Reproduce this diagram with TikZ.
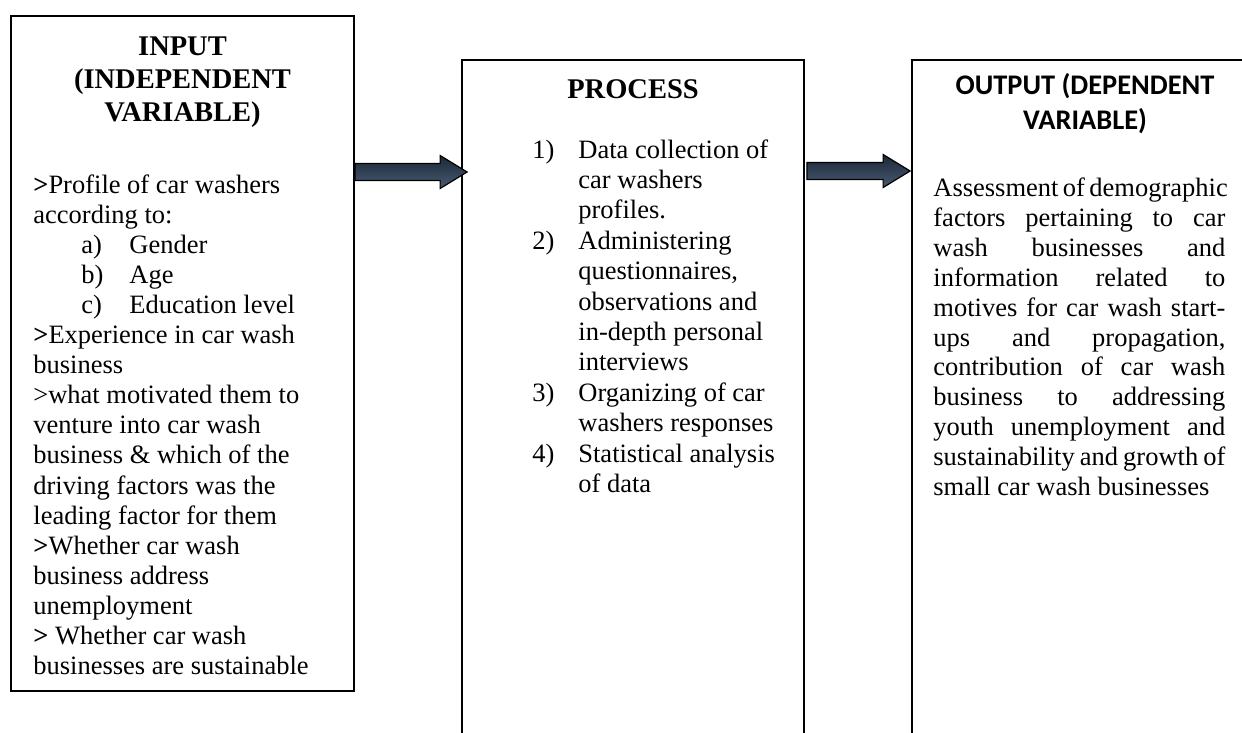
\documentclass[tikz,border=0pt]{standalone}
\usepackage{fontspec}
\setmainfont{Liberation Serif}
\newfontfamily\calibri{Carlito}
\usetikzlibrary{calc}

\newcommand{\bodyfont}{\fontsize{13.25pt}{15pt}\selectfont}
\newcommand{\headfont}{\fontsize{14.25pt}{16.5pt}\selectfont\bfseries}
\newcommand{\outheadfont}{\calibri\fontsize{14.2pt}{17pt}\selectfont\bfseries}
\newcommand{\bgt}{\textbf{>}}
\newcommand{\jline}[1]{\makebox[146pt][s]{#1}}

\definecolor{arrowtop}{RGB}{28,40,56}
\definecolor{arrowbot}{RGB}{72,90,114}

\tikzset{
  box/.style={rectangle, draw, line width=0.9pt, fill=white},
  line/.style={anchor=base west, inner sep=0pt, font=\bodyfont},
  head/.style={anchor=base, inner sep=0pt, font=\headfont},
  arrowfill/.style={draw=black, line width=0.6pt, top color=arrowtop,
                    bottom color=arrowbot, line join=miter}
}

% block arrow from #1 to #2
\newcommand{\blockarrow}[2]{%
  \path[arrowfill] ($(#1)+(0,-8.5)$) -- ($(#2)+(-27,-8.5)$)
    -- ($(#2)+(-27,-16.5)$) -- (#2) -- ($(#2)+(-27,16.5)$)
    -- ($(#2)+(-27,8.5)$) -- ($(#1)+(0,8.5)$) -- cycle;}

\begin{document}
\begin{tikzpicture}[x=0.5pt, y=-0.5pt]

    \fill[white] (0,0) rectangle (1242,733);
    \useasboundingbox (0,0) rectangle (1242,733);

    \node[box,
          minimum width = 171.5pt,
          minimum height = 337.5pt
          ] (inp) at (182.5,353.5) {};

    \node[box,
          minimum width = 171pt,
          minimum height = 350pt
          ] (proc) at (633,410) {};

    \node[box,
          minimum width = 171.5pt,
          minimum height = 350pt
          ] (out) at (1083.5,410) {};

    % headings
    \node[head] (inh1) at (inp.center |- 0,56) {INPUT};
    \node[head] (inh2) at (inp.center |- 0,89) {(INDEPENDENT};
    \node[head] (inh3) at (inp.center |- 0,122) {VARIABLE)};
    \node[head] (proch) at (proc.center |- 0,98) {PROCESS};
    \node[head, font=\outheadfont] (outh1) at (1085,95) {OUTPUT (DEPENDENT};
    \node[head, font=\outheadfont] (outh2) at (1085,130) {VARIABLE)};

    % input text
    \foreach \txt [count=\i] in {
        {\bgt Profile of car washers},
        {according to:},
        {\hspace*{24pt}\makebox[24pt][l]{a)}Gender},
        {\hspace*{24pt}\makebox[24pt][l]{b)}Age},
        {\hspace*{24pt}\makebox[24pt][l]{c)}Education level},
        {\bgt Experience in car wash},
        {business},
        {>what motivated them to},
        {venture into car wash},
        {business \& which of the},
        {driving factors was the},
        {leading factor for them},
        {\bgt Whether car wash},
        {business address},
        {unemployment},
        {\bgt{} Whether car wash},
        {businesses are sustainable}}
      \node[line] (inl\i) at (33,{193+30.1*(\i-1)}) {\txt};

    % process text
    \foreach \txt [count=\i] in {
        {\makebox[23pt][l]{1)}Data collection of},
        {\hspace*{23pt}car washers},
        {\hspace*{23pt}profiles.},
        {\makebox[23pt][l]{2)}Administering},
        {\hspace*{23pt}questionnaires,},
        {\hspace*{23pt}observations and},
        {\hspace*{23pt}in-depth personal},
        {\hspace*{23pt}interviews},
        {\makebox[23pt][l]{3)}Organizing of car},
        {\hspace*{23pt}washers responses},
        {\makebox[23pt][l]{4)}Statistical analysis},
        {\hspace*{23pt}of data}}
      \node[line] (procl\i) at (532,{158+30.4*(\i-1)}) {\txt};

    % output text
    \foreach \txt [count=\i] in {
        {\jline{Assessment of demographic}},
        {\jline{factors pertaining to car}},
        {\jline{wash businesses and}},
        {\jline{information related to}},
        {\jline{motives for car wash start-}},
        {\jline{ups and propagation,}},
        {\jline{contribution of car wash}},
        {\jline{business to addressing}},
        {\jline{youth unemployment and}},
        {\jline{sustainability and growth of}},
        {small car wash businesses}}
      \node[line] (outl\i) at (933,{197+29.8*(\i-1)}) {\txt};

    % arrows
    \coordinate (a1s) at (inp.east |- 0,172);
    \coordinate (a1e) at ($(proc.west |- 0,172)+(6,0)$);
    \coordinate (a2s) at ($(proc.east |- 0,171)+(2,0)$);
    \coordinate (a2e) at ($(out.west |- 0,171)+(-1,0)$);
    \blockarrow{a1s}{a1e}
    \blockarrow{a2s}{a2e}

\end{tikzpicture}
\end{document}
